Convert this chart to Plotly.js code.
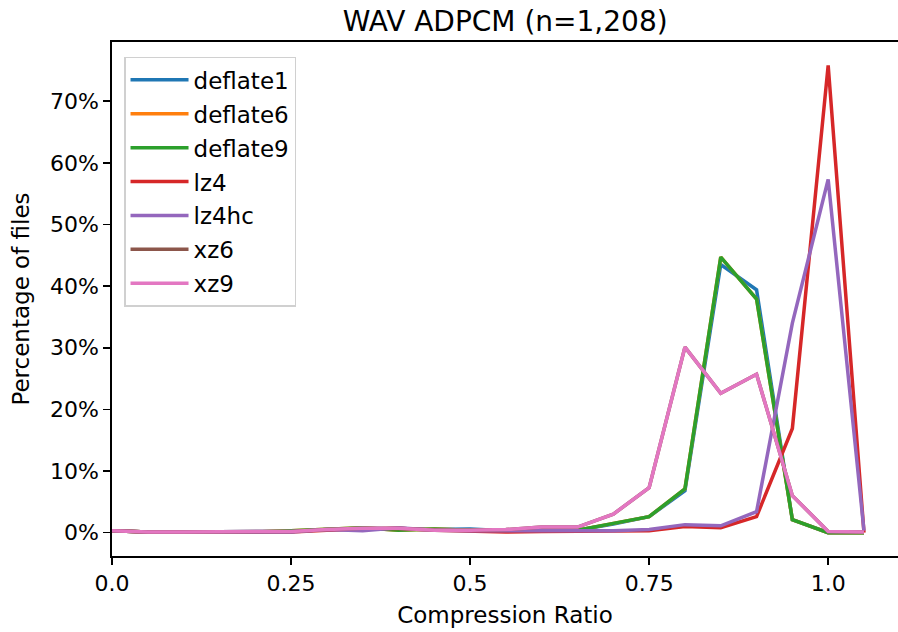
<!DOCTYPE html>
<html>
<head>
<meta charset="utf-8">
<script src="https://cdn.plot.ly/plotly-3.0.1.min.js"></script>
<style>html,body{margin:0;padding:0;background:#fff;}</style>
</head>
<body>
<div id="chart" style="width:898px;height:632px;"></div>
<script>
const ratios = [0, 0.05, 0.1, 0.15, 0.2, 0.25, 0.3, 0.35, 0.4, 0.45, 0.5, 0.55, 0.6, 0.65, 0.7, 0.75, 0.8, 0.85, 0.9, 0.95, 1.0, 1.05];
const deflate1 = [0.3,0.1,0.1,0.1,0.1,0.2,0.5,0.7,0.6,0.5,0.6,0.3,0.4,0.4,1.4,2.6,6.8,43.5,39.4,2.1,0,0];
const deflate6 = [0.3,0.1,0.1,0.1,0.1,0.3,0.5,0.8,0.4,0.6,0.4,0.3,0.4,0.4,1.5,2.6,7.1,44.7,37.9,2.1,0,0];
const deflate9 = [0.3,0.1,0.1,0.1,0.1,0.3,0.5,0.8,0.4,0.6,0.4,0.3,0.4,0.4,1.5,2.6,7.1,44.7,37.9,2.1,0,0];
const lz4 = [0.3,0.1,0.1,0.1,0.1,0.1,0.4,0.6,0.7,0.4,0.3,0.1,0.2,0.2,0.2,0.3,1.0,0.8,2.6,16.9,75.8,0];
const lz4hc = [0.3,0.1,0.1,0.1,0.1,0.1,0.5,0.3,0.8,0.4,0.3,0.3,0.3,0.3,0.3,0.5,1.3,1.1,3.4,34.0,57.3,0.3];
const xz6 = [0.3,0.1,0.1,0.1,0.1,0.2,0.5,0.7,0.7,0.4,0.4,0.5,0.9,0.9,3.0,7.3,30.1,22.6,25.7,6.0,0.2,0.1];
const xz9 = [0.3,0.1,0.1,0.1,0.1,0.2,0.5,0.7,0.7,0.4,0.4,0.5,0.9,0.9,3.0,7.3,30.1,22.6,25.7,6.0,0.2,0.1];
const seriesNames = ['deflate1','deflate6','deflate9','lz4','lz4hc','xz6','xz9'];
const seriesValues = [deflate1, deflate6, deflate9, lz4, lz4hc, xz6, xz9];
const colors = ['#1f77b4','#ff7f0e','#2ca02c','#d62728','#9467bd','#8c564b','#e377c2'];
const xTickVals = [0, 0.25, 0.5, 0.75, 1.0];
const xTickText = ['0.0','0.25','0.5','0.75','1.0'];
const yTickVals = [0,10,20,30,40,50,60,70];
const yTickText = ['0%','10%','20%','30%','40%','50%','60%','70%'];

const traces = seriesNames.map((n,i)=>({
  x: ratios, y: seriesValues[i], name: n, type:'scatter', mode:'lines', legendgroup:n,
  line:{color:colors[i], width:3.5}
}));

const font = {family:'DejaVu Sans, sans-serif', color:'#000'};
const layout = {
  width:898, height:632,
  margin:{l:112, r:0, t:42, b:76},
  paper_bgcolor:'#fff', plot_bgcolor:'#fff',
  font:Object.assign({size:22}, font),
  title:{text:'WAV ADPCM (n=1,208)', font:Object.assign({size:28}, font), x:0.5625, xanchor:'center', y:0.966, yanchor:'middle'},
  xaxis:{range:[0,1.0975], tickvals:xTickVals, ticktext:xTickText, showgrid:false, zeroline:false,
    showline:true, linecolor:'#000', linewidth:1.7, mirror:true, ticks:'outside', ticklen:7, tickwidth:1.7, tickcolor:'#000',
    tickfont:{size:22}, title:{text:'Compression Ratio', font:{size:23}, standoff:12}},
  yaxis:{range:[-3.79,79.6], tickvals:yTickVals, ticktext:yTickText, showgrid:false, zeroline:false,
    showline:true, linecolor:'#000', linewidth:1.7, ticks:'outside', ticklen:7, tickwidth:1.7, tickcolor:'#000',
    tickfont:{size:22}, title:{text:'Percentage of files', font:{size:23}, standoff:14}},
  legend:{x:0.0153, y:0.971, xanchor:'left', yanchor:'top', bgcolor:'#fff', bordercolor:'#d0d0d0', borderwidth:1.5,
    font:{size:23}, tracegroupgap:1, itemwidth:58},
  showlegend:true
};
Plotly.newPlot('chart', traces, layout, {displayModeBar:false, staticPlot:true});
</script>
</body>
</html>
